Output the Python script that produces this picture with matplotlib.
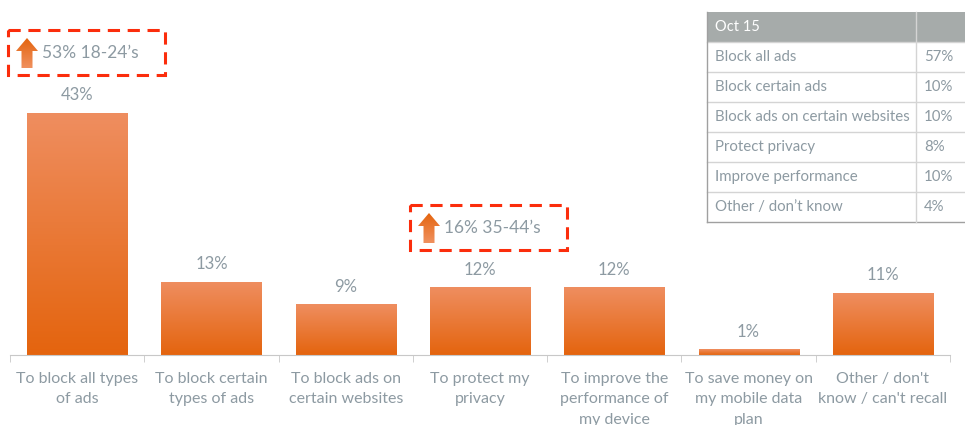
import numpy as np
import matplotlib.pyplot as plt
from matplotlib.patches import Rectangle, Polygon
from matplotlib.colors import LinearSegmentedColormap

plt.rcParams['font.family'] = ['Lato', 'DejaVu Sans']

# data
categories = ["To block all types\nof ads", "To block certain\ntypes of ads",
              "To block ads on\ncertain websites", "To protect my\nprivacy",
              "To improve the\nperformance of\nmy device", "To save money on\nmy mobile data\nplan",
              "Other / don't\nknow / can't recall"]
values = [43, 13, 9, 12, 12, 1, 11]

table_title = "Oct 15"
table_rows = ["Block all ads", "Block certain ads", "Block ads on certain websites",
              "Protect privacy", "Improve performance", "Other / don\u2019t know"]
table_vals = ["57%", "10%", "10%", "8%", "10%", "4%"]

callouts = [(0, "53% 18-24\u2019s"), (3, "16% 35-44\u2019s")]

grey = "#8d9aa2"
grad = LinearSegmentedColormap.from_list("g", ["#e4640e", "#ef8e60"])

fig = plt.figure(figsize=(9.65, 4.25), dpi=100)
ax = fig.add_axes([10 / 965, 70 / 425, 940 / 965, 355 / 425])
x = np.arange(len(values))
bars = ax.bar(x, values, width=0.745, color="none", edgecolor="none")
g = np.linspace(0, 1, 256).reshape(-1, 1)
for b, v in zip(bars, values):
    x0, w, h = b.get_x(), b.get_width(), b.get_height()
    im = ax.imshow(g, cmap=grad, aspect="auto", origin="lower",
                   extent=[x0, x0 + w, 0, h], zorder=2)
    im.set_clip_path(b)
    ax.text(x0 + w / 2, h + 1.7, f"{v}%", ha="center", va="bottom",
            fontsize=12, color=grey)

ax.set_xlim(-0.5, len(values) - 0.5)
ax.set_ylim(0, 63)
ax.set_yticks([])
for s in ["top", "right", "left"]:
    ax.spines[s].set_visible(False)
ax.spines["bottom"].set_color("#c8c8c8")
ax.set_xticks(x)
ax.set_xticklabels(categories, fontsize=11.5, color=grey, linespacing=1.6)
ax.tick_params(axis="x", length=0, pad=12)
ax.set_xticks(np.arange(-0.5, len(values), 1), minor=True)
ax.tick_params(axis="x", which="minor", length=5, color="#c8c8c8", direction="out")

# overlay in pixel coordinates
ov = fig.add_axes([0, 0, 1, 1])
ov.set_xlim(0, 965)
ov.set_ylim(425, 0)
ov.axis("off")

# table
tx0, tx1, tsplit = 707, 966, 916
ty0, rh = 12, 30
ov.add_patch(Rectangle((tx0, ty0), tx1 - tx0, rh, facecolor="#a6abaa", edgecolor="none"))
ov.text(tx0 + 8, ty0 + rh / 2, table_title, color="white", fontsize=10.5, va="center")
for i, (r, v) in enumerate(zip(table_rows, table_vals)):
    y = ty0 + rh * (i + 1)
    ov.plot([tx0, tx1], [y, y], color="#d4d4d4", lw=1)
    ov.text(tx0 + 8, y + rh / 2, r, color=grey, fontsize=10.8, va="center")
    ov.text(tsplit + 8, y + rh / 2, v, color=grey, fontsize=10.8, va="center")
tb = ty0 + rh * (len(table_rows) + 1)
ov.plot([tx0, tx1], [tb, tb], color="#a0a0a0", lw=1)
ov.plot([tx0, tx0], [ty0, tb], color="#a0a0a0", lw=1)
ov.plot([tsplit, tsplit], [ty0, tb], color="#d4d4d4", lw=1)

# callouts
boxes = [(8, 30), (410, 205)]
for (ci, txt), (bx, by) in zip(callouts, boxes):
    ov.add_patch(Rectangle((bx, by), 157, 45, facecolor="none", edgecolor="#fb2d0c",
                           lw=2.2, linestyle=(0, (4, 2.5))))
    ax_ = bx + 19
    pts = [(ax_ - 5.5, by + 38), (ax_ - 5.5, by + 21), (ax_ - 11, by + 21), (ax_, by + 8),
           (ax_ + 11, by + 21), (ax_ + 5.5, by + 21), (ax_ + 5.5, by + 38)]
    arr = Polygon(pts, closed=True, facecolor="none", edgecolor="none")
    ov.add_patch(arr)
    im = ov.imshow(g, cmap=LinearSegmentedColormap.from_list("a", ["#f0915f", "#e4640e"]),
                   aspect="auto", extent=[ax_ - 11, ax_ + 11, by + 8, by + 38], zorder=3)
    im.set_clip_path(arr)
    ov.text(bx + 34, by + 23, txt, color=grey, fontsize=12.5, va="center")
ov.set_xlim(0, 965)
ov.set_ylim(425, 0)

fig.savefig("out.png", dpi=100)
